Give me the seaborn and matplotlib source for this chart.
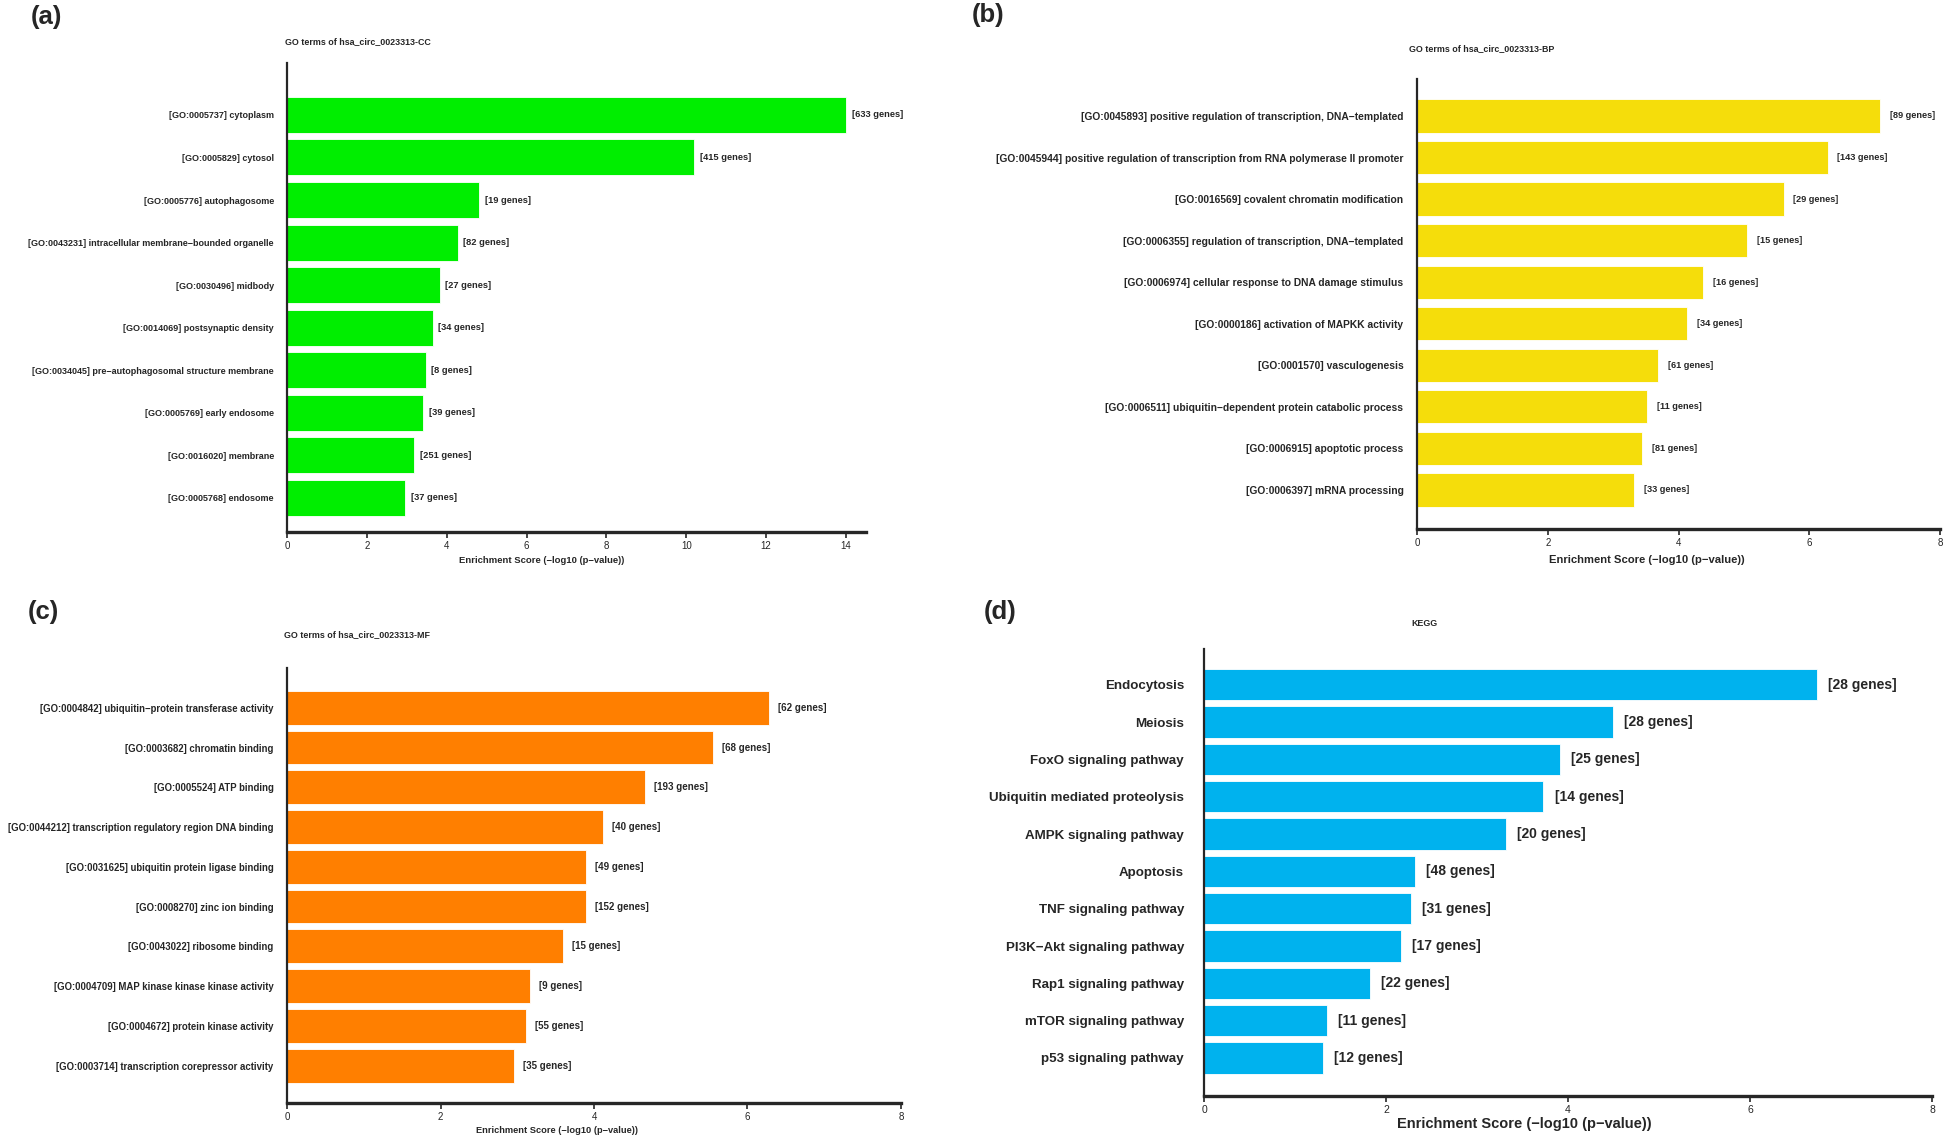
import pandas as pd
import seaborn as sns
from matplotlib import pyplot as plt

# (a) GO CC
cc_terms = ['[GO:0005737] cytoplasm', '[GO:0005829] cytosol', '[GO:0005776] autophagosome',
            '[GO:0043231] intracellular membrane\u2212bounded organelle', '[GO:0030496] midbody',
            '[GO:0014069] postsynaptic density', '[GO:0034045] pre\u2212autophagosomal structure membrane',
            '[GO:0005769] early endosome', '[GO:0016020] membrane', '[GO:0005768] endosome']
cc_score = [14.0, 10.2, 4.81, 4.27, 3.83, 3.65, 3.47, 3.41, 3.19, 2.96]
cc_genes = [633, 415, 19, 82, 27, 34, 8, 39, 251, 37]

# (b) GO BP
bp_terms = ['[GO:0045893] positive regulation of transcription, DNA\u2212templated',
            '[GO:0045944] positive regulation of transcription from RNA polymerase II promoter',
            '[GO:0016569] covalent chromatin modification', '[GO:0006355] regulation of transcription, DNA\u2212templated',
            '[GO:0006974] cellular response to DNA damage stimulus', '[GO:0000186] activation of MAPKK activity',
            '[GO:0001570] vasculogenesis', '[GO:0006511] ubiquitin\u2212dependent protein catabolic process',
            '[GO:0006915] apoptotic process', '[GO:0006397] mRNA processing']
bp_score = [7.08, 6.28, 5.61, 5.05, 4.38, 4.13, 3.69, 3.52, 3.44, 3.32]
bp_genes = [89, 143, 29, 15, 16, 34, 61, 11, 81, 33]

# (c) GO MF
mf_terms = ['[GO:0004842] ubiquitin\u2212protein transferase activity', '[GO:0003682] chromatin binding',
            '[GO:0005524] ATP binding', '[GO:0044212] transcription regulatory region DNA binding',
            '[GO:0031625] ubiquitin protein ligase binding', '[GO:0008270] zinc ion binding',
            '[GO:0043022] ribosome binding', '[GO:0004709] MAP kinase kinase kinase activity',
            '[GO:0004672] protein kinase activity', '[GO:0003714] transcription corepressor activity']
mf_score = [6.28, 5.55, 4.67, 4.12, 3.90, 3.89, 3.60, 3.16, 3.12, 2.96]
mf_genes = [62, 68, 193, 40, 49, 152, 15, 9, 55, 35]

# (d) KEGG
kegg_terms = ['Endocytosis', 'Meiosis', 'FoxO signaling pathway', 'Ubiquitin mediated proteolysis',
              'AMPK signaling pathway', 'Apoptosis', 'TNF signaling pathway', 'PI3K\u2212Akt signaling pathway',
              'Rap1 signaling pathway', 'mTOR signaling pathway', 'p53 signaling pathway']
kegg_score = [6.74, 4.49, 3.91, 3.73, 3.32, 2.32, 2.27, 2.16, 1.82, 1.35, 1.31]
kegg_genes = [28, 28, 25, 14, 20, 48, 31, 17, 22, 11, 12]

sns.set_style('white')
plt.rcParams['font.family'] = ['Liberation Sans', 'DejaVu Sans']

W, H = 1946, 1138
fig = plt.figure(figsize=(W / 100, H / 100), dpi=100)

# one dict per panel: data + axes box in px (left, top, right, bottom) and text sizes
panels = [
    dict(terms=cc_terms, score=cc_score, genes=cc_genes, color='#00EE00', title='GO terms of hsa_circ_0023313-CC',
         letter='(a)', box=(287, 63, 866, 532), xmax=14.5, ticks=range(0, 15, 2), top=1.22, bot=0.8, width=0.845,
         fs=6.5, xfs=6.8, lfs=6.7, tfs=7, pad=9.4, lpad=4, title_xy=(358, 42), letter_xy=(31, 17), xl=-0.06),
    dict(terms=bp_terms, score=bp_score, genes=bp_genes, color='#F5DD0B', title='GO terms of hsa_circ_0023313-BP',
         letter='(b)', box=(1417, 79, 1940, 529), xmax=8, ticks=range(0, 9, 2), top=0.89, bot=0.94, width=0.8,
         fs=7.4, xfs=8.1, lfs=6.6, tfs=7, pad=9.8, lpad=7, title_xy=(1482, 49), letter_xy=(972, 15), xl=-0.069),
    dict(terms=mf_terms, score=mf_score, genes=mf_genes, color='#FF7F00', title='GO terms of hsa_circ_0023313-MF',
         letter='(c)', box=(287, 668, 901, 1103), xmax=8, ticks=range(0, 9, 2), top=1.0, bot=0.94, width=0.85,
         fs=6.9, xfs=6.7, lfs=7, tfs=7, pad=9.7, lpad=6.5, title_xy=(357, 635), letter_xy=(28, 612), xl=-0.064),
    dict(terms=kegg_terms, score=kegg_score, genes=kegg_genes, color='#00B2EE', title='KEGG',
         letter='(d)', box=(1204, 649, 1932, 1096), xmax=8, ticks=range(0, 9, 2), top=0.96, bot=1.02, width=0.84,
         fs=9.6, xfs=10.5, lfs=10, tfs=7.5, pad=14.4, lpad=8, title_xy=(1424, 624), letter_xy=(984, 612), xl=-0.063),
]

for p in panels:
    x0, y0, x1, y1 = p['box']
    ax = fig.add_axes([x0 / W, 1 - y1 / H, (x1 - x0) / W, (y1 - y0) / H])
    df = pd.DataFrame({'term': p['terms'], 'score': p['score'], 'genes': p['genes']})
    sns.barplot(data=df, x='score', y='term', color=p['color'], width=p['width'], saturation=1,
                edgecolor='white', linewidth=0.6, ax=ax)
    ax.bar_label(ax.containers[0], labels=[f'[{g} genes]' for g in p['genes']], padding=p['lpad'],
                 fontsize=p['lfs'], fontweight='bold')
    n = len(p['terms'])
    ax.set_ylim(n - 1 + p['bot'], -p['top'])
    ax.set_xlim(0, p['xmax'])
    ax.set_xticks(list(p['ticks']))
    ax.set_ylabel('')
    ax.set_xlabel('Enrichment Score (\u2212log10 (p\u2212value))', fontsize=p['xfs'], fontweight='bold')
    ax.xaxis.label.set_va('center')
    ax.xaxis.set_label_coords(0.44, p['xl'])
    ax.tick_params(axis='y', length=0, pad=p['pad'], labelsize=p['fs'])
    for lab in ax.get_yticklabels():
        lab.set_fontweight('bold')
    ax.tick_params(axis='x', length=4.5, width=1.2, pad=2, labelsize=p['tfs'], direction='out', bottom=True)
    sns.despine(ax=ax)
    ax.spines['left'].set_linewidth(1.6)
    ax.spines['bottom'].set_linewidth(2.4)
    fig.text(p['title_xy'][0] / W, 1 - p['title_xy'][1] / H, p['title'], ha='center', va='center',
             fontsize=6.4, fontweight='bold')
    fig.text(p['letter_xy'][0] / W, 1 - p['letter_xy'][1] / H, p['letter'], ha='left', va='center',
             fontsize=18.5, fontweight='bold')

fig.savefig('out.png', dpi=100)
